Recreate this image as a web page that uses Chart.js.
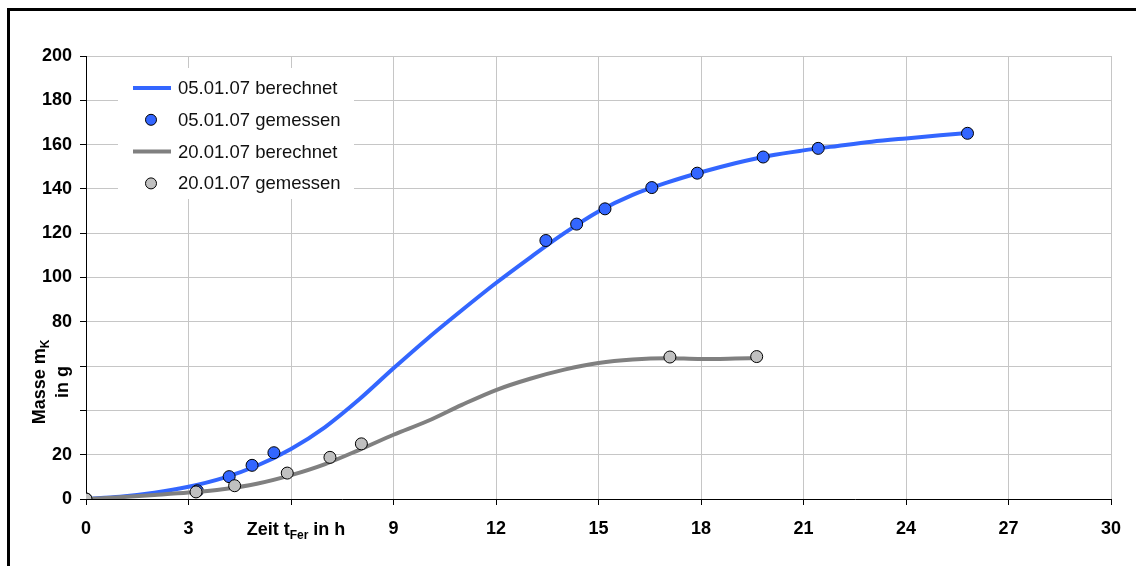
<!DOCTYPE html>
<html>
<head>
<meta charset="utf-8">
<script src="https://cdn.jsdelivr.net/npm/chart.js@4.4.0/dist/chart.umd.min.js"></script>
<style>
html, body { margin: 0; padding: 0; background: #fff; overflow: hidden; }
#wrap { position: relative; width: 1136px; height: 566px; overflow: hidden; }
#massChart { position: absolute; left: 0; top: 0; }
#frame { position: absolute; left: 7px; top: 8px; width: 1200px; height: 600px; border: 3px solid #000; pointer-events: none; }
</style>
</head>
<body>
<div id="wrap">
    <canvas id="massChart" width="1136" height="566"></canvas>
    <div id="frame"></div>
</div>
<script>
// 05.01.07 - calculated curve
const calcTime1 = [0, 1, 2, 3, 4, 5, 6, 7, 8, 9, 10, 11, 12, 13, 14, 15, 16, 17, 18, 19, 20, 21, 22, 23, 24, 25, 25.8];
const calcMass1 = [0, 1.0, 2.8, 5.5, 9.4, 15.0, 22.6, 32.5, 45.0, 59.0, 72.5, 85.2, 97.5, 109.0, 120.0, 129.8, 137.3, 142.8, 147.5, 151.6, 155.0, 157.4, 159.4, 161.3, 162.8, 164.2, 165.2];

// 05.01.07 - measured
const measTime1 = [0, 3.26, 4.19, 4.86, 5.50, 13.46, 14.36, 15.19, 16.56, 17.89, 19.82, 21.43, 25.80];
const measMass1 = [0, 3.7, 10.1, 15.2, 20.9, 116.7, 124.1, 131.0, 140.6, 147.1, 154.4, 158.3, 165.1];

// 20.01.07 - calculated curve
const calcTime2 = [0, 1, 2, 3, 4, 5, 6, 7, 8, 9, 10, 11, 12, 13, 14, 15, 16, 17, 18, 19, 19.63];
const calcMass2 = [0, 0.8, 1.8, 2.9, 4.4, 6.9, 10.8, 15.8, 22.2, 29.0, 35.2, 42.5, 49.2, 54.3, 58.4, 61.4, 63.0, 63.6, 63.2, 63.4, 63.6];

// 20.01.07 - measured
const measTime2 = [0, 3.22, 4.35, 5.89, 7.14, 8.06, 17.09, 19.63];
const measMass2 = [0, 3.2, 6.0, 11.7, 18.8, 24.9, 64.1, 64.3];

const seriesLabels = ['05.01.07 berechnet', '05.01.07 gemessen', '20.01.07 berechnet', '20.01.07 gemessen'];

// tick labels that are hidden behind the axis titles in the original
const hiddenXTicks = [6];
const hiddenYTicks = [40, 60];

const FONT = "'Liberation Sans', Arial, Helvetica, sans-serif";
Chart.defaults.font.family = FONT;

function toPoints(xs, ys) {
    return xs.map((x, i) => ({ x: x, y: ys[i] }));
}

// draws the axis titles (with subscripts) and the legend box inside the plot
const decorations = {
    id: 'decorations',
    afterDraw(chart) {
        const ctx = chart.ctx;
        const area = chart.chartArea;
        const xs = chart.scales.x;
        ctx.save();
        ctx.fillStyle = '#000';
        ctx.textBaseline = 'alphabetic';

        // x title: Zeit t_Fer in h
        const big = 'bold 18px ' + FONT;
        const small = 'bold 12px ' + FONT;
        const parts = [['Zeit t', big, 0], ['Fer', small, 4], [' in h', big, 0]];
        let w = 0;
        parts.forEach(p => { ctx.font = p[1]; w += ctx.measureText(p[0]).width; });
        let cx = xs.getPixelForValue(6) + 5 - w / 2;
        const by = area.bottom + 36;
        parts.forEach(p => {
            ctx.font = p[1];
            ctx.textAlign = 'left';
            ctx.fillText(p[0], cx, by + p[2]);
            cx += ctx.measureText(p[0]).width;
        });

        // y title: Masse m_K / in g (rotated)
        ctx.translate(45, 382);
        ctx.rotate(-Math.PI / 2);
        const yparts = [['Masse m', big, 0], ['K', small, 4]];
        w = 0;
        yparts.forEach(p => { ctx.font = p[1]; w += ctx.measureText(p[0]).width; });
        let ux = -w / 2;
        yparts.forEach(p => {
            ctx.font = p[1];
            ctx.fillText(p[0], ux, p[2]);
            ux += ctx.measureText(p[0]).width;
        });
        ctx.font = big;
        ctx.textAlign = 'center';
        ctx.fillText('in g', 0, 22.5);
        ctx.restore();

        // legend
        ctx.save();
        const lx = area.left + 32, ly = area.top + 12;
        ctx.fillStyle = '#fff';
        ctx.fillRect(lx, ly, 236, 131);
        ctx.font = '18.5px ' + FONT;
        ctx.textBaseline = 'middle';
        ctx.textAlign = 'left';
        chart.data.datasets.forEach((ds, i) => {
            const rowY = ly + 20 + i * 31.8;
            if (ds.showLine !== false) {
                ctx.strokeStyle = ds.borderColor;
                ctx.lineWidth = ds.borderWidth;
                ctx.beginPath();
                ctx.moveTo(lx + 15, rowY);
                ctx.lineTo(lx + 53, rowY);
                ctx.stroke();
            } else {
                ctx.fillStyle = ds.pointBackgroundColor;
                ctx.strokeStyle = ds.pointBorderColor;
                ctx.lineWidth = 1;
                ctx.beginPath();
                ctx.arc(lx + 33, rowY, 5.5, 0, Math.PI * 2);
                ctx.fill();
                ctx.stroke();
            }
            ctx.fillStyle = '#111';
            ctx.fillText(ds.label, lx + 60, rowY + 1);
        });
        ctx.restore();
    }
};

const ctx = document.getElementById('massChart').getContext('2d');
const massChart = new Chart(ctx, {
    type: 'line',
    data: {
        datasets: [{
            label: seriesLabels[0],
            data: toPoints(calcTime1, calcMass1),
            borderColor: '#3366ff',
            borderWidth: 4,
            pointRadius: 0,
            cubicInterpolationMode: 'monotone',
            order: 4
        }, {
            label: seriesLabels[1],
            data: toPoints(measTime1, measMass1),
            showLine: false,
            pointRadius: 6,
            pointBackgroundColor: '#3366ff',
            pointBorderColor: '#000',
            pointBorderWidth: 1,
            order: 3
        }, {
            label: seriesLabels[2],
            data: toPoints(calcTime2, calcMass2),
            borderColor: '#808080',
            borderWidth: 4,
            pointRadius: 0,
            cubicInterpolationMode: 'monotone',
            order: 2
        }, {
            label: seriesLabels[3],
            data: toPoints(measTime2, measMass2),
            showLine: false,
            pointRadius: 6,
            pointBackgroundColor: '#c0c0c0',
            pointBorderColor: '#000',
            pointBorderWidth: 1,
            order: 1
        }]
    },
    options: {
        responsive: false,
        animation: false,
        devicePixelRatio: 1,
        layout: { padding: { top: 56, right: 25, left: 0, bottom: 0 } },
        plugins: {
            legend: { display: false },
            tooltip: { enabled: false }
        },
        scales: {
            x: {
                type: 'linear',
                min: 0,
                max: 30,
                afterFit: (scale) => { scale.height = 67; },
                ticks: {
                    stepSize: 3,
                    color: '#000',
                    padding: 13,
                    font: { size: 18, weight: 'bold' },
                    callback: (v) => hiddenXTicks.includes(v) ? '' : v
                },
                grid: { color: '#c6c6c6', tickColor: '#000', tickLength: 6 },
                border: { color: '#000', width: 1 }
            },
            y: {
                min: 0,
                max: 200,
                afterFit: (scale) => { scale.width = 86; },
                ticks: {
                    stepSize: 20,
                    color: '#000',
                    padding: 8,
                    font: { size: 18, weight: 'bold' },
                    callback: (v) => hiddenYTicks.includes(v) ? '' : v
                },
                grid: { color: '#c6c6c6', tickColor: '#000', tickLength: 6 },
                border: { color: '#000', width: 1 }
            }
        }
    },
    plugins: [decorations]
});
</script>
</body>
</html>
